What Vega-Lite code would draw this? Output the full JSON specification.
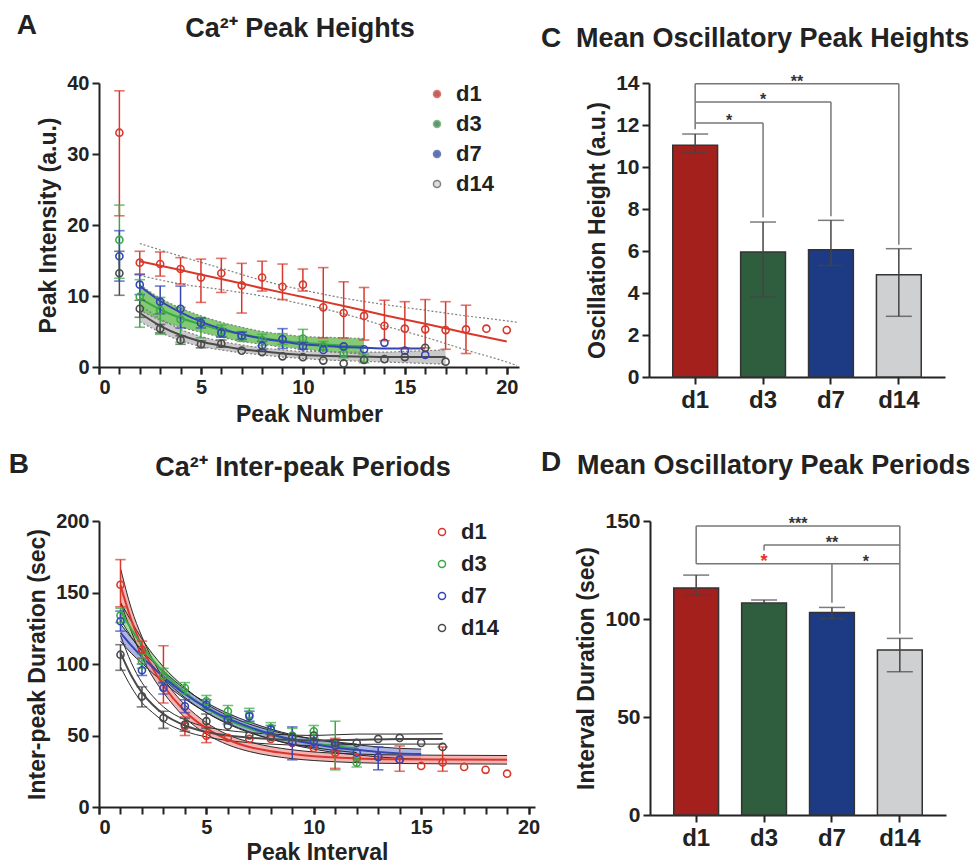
{
  "$schema": "https://vega.github.io/schema/vega-lite/v6.json",
  "padding": {"left": 8, "top": 10, "right": 0, "bottom": 0},
  "spacing": 23,
  "datasets": {
    "ptsA": [
      {"g":"d1","x":1,"m":33.0,"lo":21.3,"hi":38.9},{"g":"d1","x":2,"m":14.7,"lo":13.1,"hi":16.3},{"g":"d1","x":3,"m":14.5,"lo":12.8,"hi":16.2},{"g":"d1","x":4,"m":13.8,"lo":11.7,"hi":15.4},{"g":"d1","x":5,"m":12.6,"lo":9.1,"hi":15.2},{"g":"d1","x":6,"m":13.2,"lo":10.5,"hi":15.3},{"g":"d1","x":7,"m":11.5,"lo":7.6,"hi":14.6},{"g":"d1","x":8,"m":12.6,"lo":10.7,"hi":14.9},{"g":"d1","x":9,"m":11.3,"lo":9.5,"hi":14.5},{"g":"d1","x":10,"m":11.6,"lo":10.7,"hi":13.8},{"g":"d1","x":11,"m":8.4,"lo":4.1,"hi":14.0},{"g":"d1","x":12,"m":7.6,"lo":4.1,"hi":12.0},{"g":"d1","x":13,"m":7.2,"lo":3.8,"hi":11.2},{"g":"d1","x":14,"m":5.8,"lo":3.7,"hi":9.4},{"g":"d1","x":15,"m":5.4,"lo":2.7,"hi":9.2},{"g":"d1","x":16,"m":5.3,"lo":2.7,"hi":9.5},{"g":"d1","x":17,"m":5.2,"lo":2.5,"hi":9.2},{"g":"d1","x":18,"m":5.3,"lo":1.9,"hi":8.7},{"g":"d1","x":19,"m":5.4,"lo":null,"hi":null},{"g":"d1","x":20,"m":5.2,"lo":null,"hi":null},
      {"g":"d3","x":1,"m":17.9,"lo":12.5,"hi":22.8},{"g":"d3","x":2,"m":9.9,"lo":5.6,"hi":12.3},{"g":"d3","x":3,"m":8.0,"lo":4.6,"hi":9.8},{"g":"d3","x":4,"m":6.7,"lo":3.5,"hi":8.4},{"g":"d3","x":5,"m":6.2,"lo":4.1,"hi":6.9},{"g":"d3","x":6,"m":5.1,"lo":4.3,"hi":5.9},{"g":"d3","x":7,"m":4.3,"lo":3.6,"hi":5.0},{"g":"d3","x":8,"m":3.8,"lo":3.0,"hi":4.6},{"g":"d3","x":9,"m":3.9,"lo":3.2,"hi":4.7},{"g":"d3","x":10,"m":4.0,"lo":3.3,"hi":5.3},{"g":"d3","x":11,"m":2.9,"lo":2.3,"hi":3.6},{"g":"d3","x":12,"m":1.9,"lo":1.3,"hi":2.6},{"g":"d3","x":13,"m":1.1,"lo":0.6,"hi":1.8},
      {"g":"d7","x":1,"m":15.6,"lo":12.1,"hi":19.2},{"g":"d7","x":2,"m":11.6,"lo":10.2,"hi":13.0},{"g":"d7","x":3,"m":9.2,"lo":7.5,"hi":11.4},{"g":"d7","x":4,"m":8.2,"lo":5.5,"hi":11.4},{"g":"d7","x":5,"m":6.2,"lo":5.5,"hi":6.9},{"g":"d7","x":6,"m":4.8,"lo":4.2,"hi":5.4},{"g":"d7","x":7,"m":4.4,"lo":3.9,"hi":4.9},{"g":"d7","x":8,"m":3.0,"lo":2.4,"hi":3.6},{"g":"d7","x":9,"m":3.9,"lo":2.6,"hi":5.4},{"g":"d7","x":10,"m":2.9,"lo":2.5,"hi":3.5},{"g":"d7","x":11,"m":2.4,"lo":null,"hi":null},{"g":"d7","x":12,"m":2.9,"lo":null,"hi":null},{"g":"d7","x":13,"m":2.5,"lo":null,"hi":null},{"g":"d7","x":14,"m":3.4,"lo":null,"hi":null},{"g":"d7","x":15,"m":2.3,"lo":null,"hi":null},{"g":"d7","x":16,"m":1.7,"lo":null,"hi":null},
      {"g":"d14","x":1,"m":13.2,"lo":10.1,"hi":16.3},{"g":"d14","x":2,"m":8.2,"lo":7.0,"hi":9.4},{"g":"d14","x":3,"m":5.4,"lo":4.8,"hi":6.0},{"g":"d14","x":4,"m":3.8,"lo":3.2,"hi":4.4},{"g":"d14","x":5,"m":3.2,"lo":2.7,"hi":3.7},{"g":"d14","x":6,"m":3.3,"lo":2.8,"hi":3.8},{"g":"d14","x":7,"m":2.3,"lo":null,"hi":null},{"g":"d14","x":8,"m":2.1,"lo":null,"hi":null},{"g":"d14","x":9,"m":1.5,"lo":null,"hi":null},{"g":"d14","x":10,"m":1.4,"lo":null,"hi":null},{"g":"d14","x":11,"m":0.9,"lo":null,"hi":null},{"g":"d14","x":12,"m":0.5,"lo":null,"hi":null},{"g":"d14","x":13,"m":1.0,"lo":null,"hi":null},{"g":"d14","x":14,"m":1.1,"lo":null,"hi":null},{"g":"d14","x":15,"m":1.4,"lo":null,"hi":null},{"g":"d14","x":16,"m":2.7,"lo":null,"hi":null},{"g":"d14","x":17,"m":0.75,"lo":null,"hi":null}
    ],
    "fitA": [
      {"g":"d1","x":2,"f":14.9,"lo":12.9,"hi":17.4},{"g":"d1","x":4,"f":13.65,"lo":11.7,"hi":15.6},{"g":"d1","x":6,"f":12.4,"lo":10.9,"hi":13.9},{"g":"d1","x":8,"f":11.1,"lo":10.0,"hi":12.2},{"g":"d1","x":10,"f":9.85,"lo":8.85,"hi":10.85},{"g":"d1","x":12,"f":8.6,"lo":7.5,"hi":9.7},{"g":"d1","x":14,"f":7.3,"lo":5.8,"hi":8.8},{"g":"d1","x":16,"f":6.1,"lo":4.2,"hi":8.0},{"g":"d1","x":18,"f":4.8,"lo":2.4,"hi":7.2},{"g":"d1","x":20,"f":3.6,"lo":0.7,"hi":6.5},{"g":"d1","x":20.5,"f":null,"lo":0.2,"hi":6.3},
      {"g":"d3","x":2,"f":9.7,"lo":8.0,"hi":11.6},{"g":"d3","x":3,"f":8.1,"lo":6.6,"hi":9.7},{"g":"d3","x":4,"f":6.9,"lo":5.6,"hi":8.3},{"g":"d3","x":5,"f":6.0,"lo":4.9,"hi":7.2},{"g":"d3","x":6,"f":5.2,"lo":4.2,"hi":6.3},{"g":"d3","x":7,"f":4.6,"lo":3.6,"hi":5.6},{"g":"d3","x":8,"f":4.1,"lo":3.2,"hi":5.0},{"g":"d3","x":9,"f":3.7,"lo":2.8,"hi":4.6},{"g":"d3","x":10,"f":3.4,"lo":2.5,"hi":4.3},{"g":"d3","x":11,"f":3.2,"lo":2.2,"hi":4.2},{"g":"d3","x":12,"f":3.0,"lo":2.0,"hi":4.1},{"g":"d3","x":13,"f":2.9,"lo":1.8,"hi":4.0},
      {"g":"d7","x":2,"f":11.4,"lo":null,"hi":null},{"g":"d7","x":3,"f":9.3,"lo":null,"hi":null},{"g":"d7","x":4,"f":7.7,"lo":null,"hi":null},{"g":"d7","x":5,"f":6.4,"lo":null,"hi":null},{"g":"d7","x":6,"f":5.4,"lo":null,"hi":null},{"g":"d7","x":7,"f":4.6,"lo":null,"hi":null},{"g":"d7","x":8,"f":4.0,"lo":null,"hi":null},{"g":"d7","x":9,"f":3.6,"lo":null,"hi":null},{"g":"d7","x":10,"f":3.2,"lo":null,"hi":null},{"g":"d7","x":11,"f":3.0,"lo":null,"hi":null},{"g":"d7","x":12,"f":2.8,"lo":null,"hi":null},{"g":"d7","x":13,"f":2.7,"lo":null,"hi":null},{"g":"d7","x":14,"f":2.6,"lo":null,"hi":null},{"g":"d7","x":15,"f":2.6,"lo":null,"hi":null},{"g":"d7","x":16,"f":2.6,"lo":null,"hi":null},
      {"g":"d14","x":2,"f":7.6,"lo":6.4,"hi":8.8},{"g":"d14","x":3,"f":5.8,"lo":4.9,"hi":6.8},{"g":"d14","x":4,"f":4.5,"lo":3.7,"hi":5.3},{"g":"d14","x":5,"f":3.6,"lo":2.9,"hi":4.3},{"g":"d14","x":6,"f":3.0,"lo":2.4,"hi":3.6},{"g":"d14","x":7,"f":2.5,"lo":2.0,"hi":3.1},{"g":"d14","x":8,"f":2.2,"lo":1.7,"hi":2.7},{"g":"d14","x":9,"f":1.9,"lo":1.4,"hi":2.4},{"g":"d14","x":10,"f":1.7,"lo":1.2,"hi":2.2},{"g":"d14","x":11,"f":1.6,"lo":1.0,"hi":2.2},{"g":"d14","x":12,"f":1.5,"lo":0.9,"hi":2.1},{"g":"d14","x":13,"f":1.45,"lo":0.8,"hi":2.1},{"g":"d14","x":14,"f":1.4,"lo":0.7,"hi":2.1},{"g":"d14","x":15,"f":1.4,"lo":0.6,"hi":2.2},{"g":"d14","x":16,"f":1.4,"lo":0.5,"hi":2.3},{"g":"d14","x":17,"f":1.4,"lo":0.4,"hi":2.4}
    ],
    "ptsB": [
      {"g":"d1","x":1,"m":155.4,"lo":140,"hi":173},{"g":"d1","x":2,"m":110,"lo":104,"hi":116},{"g":"d1","x":3,"m":91.8,"lo":72.7,"hi":112.8},{"g":"d1","x":4,"m":56.4,"lo":50,"hi":63},{"g":"d1","x":5,"m":49.9,"lo":45,"hi":56},{"g":"d1","x":6,"m":48.4,"lo":null,"hi":null},{"g":"d1","x":7,"m":47.6,"lo":null,"hi":null},{"g":"d1","x":8,"m":47.6,"lo":null,"hi":null},{"g":"d1","x":9,"m":44.8,"lo":null,"hi":null},{"g":"d1","x":10,"m":41.3,"lo":null,"hi":null},{"g":"d1","x":11,"m":38,"lo":27,"hi":48},{"g":"d1","x":12,"m":34.3,"lo":null,"hi":null},{"g":"d1","x":13,"m":35,"lo":null,"hi":null},{"g":"d1","x":14,"m":33.1,"lo":25,"hi":42.7},{"g":"d1","x":15,"m":28.7,"lo":null,"hi":null},{"g":"d1","x":16,"m":31.2,"lo":25,"hi":42},{"g":"d1","x":17,"m":28,"lo":null,"hi":null},{"g":"d1","x":18,"m":26,"lo":null,"hi":null},{"g":"d1","x":19,"m":23.3,"lo":null,"hi":null},
      {"g":"d3","x":1,"m":134,"lo":129,"hi":139},{"g":"d3","x":2,"m":101.9,"lo":97,"hi":107},{"g":"d3","x":3,"m":91.8,"lo":87,"hi":97},{"g":"d3","x":4,"m":83.2,"lo":79,"hi":87},{"g":"d3","x":5,"m":73.9,"lo":69,"hi":78},{"g":"d3","x":6,"m":66.9,"lo":62,"hi":71},{"g":"d3","x":7,"m":64.6,"lo":59,"hi":69},{"g":"d3","x":8,"m":55.2,"lo":51,"hi":59},{"g":"d3","x":9,"m":49.9,"lo":46,"hi":55},{"g":"d3","x":10,"m":52.9,"lo":48,"hi":57},{"g":"d3","x":11,"m":44.3,"lo":26,"hi":60},{"g":"d3","x":12,"m":31,"lo":28,"hi":34},
      {"g":"d7","x":1,"m":129.9,"lo":123,"hi":137},{"g":"d7","x":2,"m":95.6,"lo":92,"hi":100},{"g":"d7","x":3,"m":83.2,"lo":79,"hi":87},{"g":"d7","x":4,"m":70.4,"lo":66,"hi":75},{"g":"d7","x":5,"m":71.5,"lo":68,"hi":75},{"g":"d7","x":6,"m":61.1,"lo":58,"hi":64},{"g":"d7","x":7,"m":63.4,"lo":60,"hi":67},{"g":"d7","x":8,"m":54.1,"lo":51,"hi":57},{"g":"d7","x":9,"m":45.2,"lo":33,"hi":56},{"g":"d7","x":10,"m":45.9,"lo":42,"hi":50},{"g":"d7","x":11,"m":42.9,"lo":39,"hi":47},{"g":"d7","x":12,"m":38,"lo":null,"hi":null},{"g":"d7","x":13,"m":35,"lo":26,"hi":42},{"g":"d7","x":14,"m":33.1,"lo":null,"hi":null},
      {"g":"d14","x":1,"m":106.5,"lo":95.6,"hi":113.5},{"g":"d14","x":2,"m":77.4,"lo":70,"hi":84},{"g":"d14","x":3,"m":62.2,"lo":55,"hi":67},{"g":"d14","x":4,"m":57.6,"lo":53,"hi":62},{"g":"d14","x":5,"m":60,"lo":55,"hi":65},{"g":"d14","x":6,"m":56.9,"lo":null,"hi":null},{"g":"d14","x":7,"m":50,"lo":null,"hi":null},{"g":"d14","x":8,"m":49,"lo":null,"hi":null},{"g":"d14","x":9,"m":49,"lo":null,"hi":null},{"g":"d14","x":10,"m":50,"lo":null,"hi":null},{"g":"d14","x":11,"m":44.8,"lo":null,"hi":null},{"g":"d14","x":12,"m":44.8,"lo":null,"hi":null},{"g":"d14","x":13,"m":47.6,"lo":null,"hi":null},{"g":"d14","x":14,"m":48.3,"lo":null,"hi":null},{"g":"d14","x":15,"m":44.8,"lo":null,"hi":null},{"g":"d14","x":16,"m":42,"lo":null,"hi":null}
    ],
    "fitB": [
      {"g":"d1","x":1,"f":155,"lo":143,"hi":167},{"g":"d1","x":1.5,"f":131,"lo":123,"hi":139},{"g":"d1","x":2,"f":112,"lo":105,"hi":119},{"g":"d1","x":2.5,"f":97,"lo":91,"hi":103},{"g":"d1","x":3,"f":85,"lo":80,"hi":90},{"g":"d1","x":4,"f":67,"lo":62.5,"hi":71.5},{"g":"d1","x":5,"f":55,"lo":51,"hi":59},{"g":"d1","x":6,"f":47,"lo":43.5,"hi":50.5},{"g":"d1","x":7,"f":42,"lo":38.8,"hi":45.5},{"g":"d1","x":8,"f":39,"lo":35.8,"hi":42.2},{"g":"d1","x":9,"f":37,"lo":33.8,"hi":40},{"g":"d1","x":10,"f":35.5,"lo":32.5,"hi":38.5},{"g":"d1","x":12,"f":34,"lo":31,"hi":37},{"g":"d1","x":14,"f":33.4,"lo":30.4,"hi":36.4},{"g":"d1","x":16,"f":33.2,"lo":30.2,"hi":36.2},{"g":"d1","x":19,"f":33,"lo":30,"hi":36},
      {"g":"d3","x":1,"f":137,"lo":131,"hi":143},{"g":"d3","x":1.5,"f":124.5,"lo":119,"hi":130},{"g":"d3","x":2,"f":113,"lo":108.5,"hi":117.5},{"g":"d3","x":3,"f":94,"lo":90,"hi":98},{"g":"d3","x":4,"f":80,"lo":76.5,"hi":83.5},{"g":"d3","x":5,"f":69,"lo":66,"hi":72},{"g":"d3","x":6,"f":61,"lo":58,"hi":64},{"g":"d3","x":7,"f":55,"lo":52,"hi":58},{"g":"d3","x":8,"f":50.5,"lo":47.5,"hi":53.5},{"g":"d3","x":9,"f":47,"lo":44,"hi":50},{"g":"d3","x":10,"f":44.5,"lo":41.5,"hi":47.5},{"g":"d3","x":11,"f":42.5,"lo":39.5,"hi":45.5},{"g":"d3","x":12,"f":41,"lo":38,"hi":44},
      {"g":"d7","x":1,"f":122,"lo":116,"hi":128},{"g":"d7","x":1.5,"f":113,"lo":107.5,"hi":118.5},{"g":"d7","x":2,"f":105,"lo":100.5,"hi":109.5},{"g":"d7","x":3,"f":91,"lo":87,"hi":95},{"g":"d7","x":4,"f":79,"lo":75.5,"hi":82.5},{"g":"d7","x":5,"f":69.5,"lo":66,"hi":73},{"g":"d7","x":6,"f":62,"lo":58.5,"hi":65.5},{"g":"d7","x":7,"f":56,"lo":52.5,"hi":59.5},{"g":"d7","x":8,"f":51,"lo":47.5,"hi":54.5},{"g":"d7","x":9,"f":47,"lo":43.5,"hi":50.5},{"g":"d7","x":10,"f":44,"lo":40.5,"hi":47.5},{"g":"d7","x":11,"f":41.5,"lo":38,"hi":45},{"g":"d7","x":12,"f":40,"lo":36.5,"hi":43.5},{"g":"d7","x":13,"f":38.5,"lo":35,"hi":42},{"g":"d7","x":14,"f":37.5,"lo":34,"hi":41},{"g":"d7","x":15,"f":37,"lo":33.5,"hi":40.5},
      {"g":"d14","x":1,"f":108,"lo":98,"hi":120},{"g":"d14","x":1.5,"f":92,"lo":84,"hi":101},{"g":"d14","x":2,"f":80,"lo":73,"hi":87},{"g":"d14","x":2.5,"f":71.5,"lo":66,"hi":77.5},{"g":"d14","x":3,"f":65,"lo":60,"hi":70},{"g":"d14","x":4,"f":57,"lo":53,"hi":61},{"g":"d14","x":5,"f":52.5,"lo":49,"hi":56},{"g":"d14","x":6,"f":50,"lo":46.5,"hi":53.5},{"g":"d14","x":7,"f":48.5,"lo":45,"hi":52},{"g":"d14","x":8,"f":47.5,"lo":44,"hi":51},{"g":"d14","x":10,"f":46.5,"lo":43,"hi":50},{"g":"d14","x":12,"f":47,"lo":43.8,"hi":51},{"g":"d14","x":14,"f":47.5,"lo":44,"hi":51},{"g":"d14","x":16,"f":47.6,"lo":44,"hi":51.2}
    ],
    "barsC": [
      {"g":"d1","m":11.03,"lo":10.7,"hi":11.57},{"g":"d3","m":5.95,"lo":3.81,"hi":7.38},{"g":"d7","m":6.06,"lo":5.31,"hi":7.46},{"g":"d14","m":4.87,"lo":2.89,"hi":6.11}
    ],
    "hC": [{"a":"d1","b":"d3","y":12.1},{"a":"d1","b":"d7","y":13.1},{"a":"d1","b":"d14","y":13.97}],
    "vC": [{"a":"d1","y1":11.8,"y2":13.97},{"a":"d3","y1":7.6,"y2":12.1},{"a":"d7","y1":7.65,"y2":13.1},{"a":"d14","y1":6.3,"y2":13.97}],
    "sC": [{"a":"d1","y":12.1,"t":"*","pos":"mid"},{"a":"d3","y":13.1,"t":"*","pos":"center"},{"a":"d3","y":13.97,"t":"**","pos":"mid"}],
    "barsD": [
      {"g":"d1","m":115.8,"lo":112.1,"hi":122.4},{"g":"d3","m":108.2,"lo":107.8,"hi":109.7},{"g":"d7","m":103.3,"lo":100.2,"hi":105.9},{"g":"d14","m":84.2,"lo":73.1,"hi":90.1}
    ],
    "hD": [{"a":"d1","b":"d14","y":147.4},{"a":"d3","b":"d14","y":137.8},{"a":"d1","b":"d7","y":128.2},{"a":"d7","b":"d14","y":128.2}],
    "vD": [{"a":"d1","y1":128.2,"y2":147.4},{"a":"d3","y1":135,"y2":137.8},{"a":"d7","y1":108.3,"y2":128.2},{"a":"d14","y1":92.5,"y2":147.4}],
    "sD": [{"a":"d3","y":147.4,"t":"***","pos":"mid"},{"a":"d7","y":137.8,"t":"**","pos":"center"},{"a":"d7","y":128.2,"t":"*","pos":"mid"}]
  },
  "vconcat": [
    {
      "spacing": 21,
      "hconcat": [
        {
          "title": {"text": "A", "anchor": "start", "fontSize": 28, "dx": -21, "dy": 25, "offset": 0},
          "vconcat": [
            {
              "title": {"text": "Ca²⁺ Peak Heights", "offset": 30, "fontSize": 27, "dx": -9, "frame": "group"},
              "width": 420,
              "height": 284,
              "resolve": {"axis": {"x": "independent"}},
              "layer": [
                {"data": {"name": "fitA"}, "transform": [{"filter": "datum.g == 'd14'"}], "mark": {"type": "area", "color": "#bdbdbd", "opacity": 0.8, "interpolate": "monotone"},
                 "encoding": {"x": {"field": "x", "type": "quantitative", "scale": {"domain": [0, 20.6], "nice": false}, "axis": {"orient": "bottom", "values": [0,5,10,15,20], "title": "Peak Number", "labelFontSize": 20}},
                              "y": {"field": "lo", "type": "quantitative", "scale": {"domain": [0, 40], "nice": false}, "axis": {"values": [0,10,20,30,40], "title": "Peak  Intensity (a.u.)", "labelFontSize": 20}},
                              "y2": {"field": "hi"}}},
                {"data": {"name": "fitA"}, "transform": [{"filter": "datum.g == 'd3'"}], "mark": {"type": "area", "color": "#6cc25c", "opacity": 0.85, "interpolate": "monotone"},
                 "encoding": {"x": {"field": "x", "type": "quantitative", "axis": {"orient": "bottom", "values": [0,1,2,3,4,5,6,7,8,9,10,11,12,13,14,15,16,17,18,19,20], "labels": false, "domain": false, "title": null}}, "y": {"field": "lo", "type": "quantitative"}, "y2": {"field": "hi"}}},
                {"data": {"name": "fitA"}, "transform": [{"filter": "datum.g != 'd7'"}, {"fold": ["lo", "hi"], "as": ["edge", "v"]}], "mark": {"type": "line", "color": "#808080", "strokeDash": [2, 2], "strokeWidth": 1.2, "interpolate": "monotone"},
                 "encoding": {"x": {"field": "x", "type": "quantitative", "axis": null}, "y": {"field": "v", "type": "quantitative"}, "detail": [{"field": "g"}, {"field": "edge"}]}},
                {"data": {"name": "fitA"}, "mark": {"type": "line", "strokeWidth": 2, "interpolate": "monotone"},
                 "encoding": {"x": {"field": "x", "type": "quantitative", "axis": null}, "y": {"field": "f", "type": "quantitative"}, "color": {"field": "g", "type": "nominal", "scale": {"domain": ["d1","d3","d7","d14"], "range": ["#d8382c","#3aa847","#3446b2","#4a4a4a"]}}}},
                {"data": {"name": "ptsA"}, "transform": [{"filter": "isValid(datum.lo)"}], "mark": {"type": "rule", "strokeWidth": 1.5},
                 "encoding": {"x": {"field": "x", "type": "quantitative", "axis": null}, "y": {"field": "lo", "type": "quantitative"}, "y2": {"field": "hi"}, "color": {"field": "g", "type": "nominal"}}},
                {"data": {"name": "ptsA"}, "transform": [{"filter": "isValid(datum.lo)"}, {"fold": ["lo", "hi"], "as": ["k", "v"]}], "mark": {"type": "tick", "orient": "horizontal", "size": 9, "thickness": 0.1, "filled": false, "strokeWidth": 1.5},
                 "encoding": {"x": {"field": "x", "type": "quantitative", "axis": null}, "y": {"field": "v", "type": "quantitative"}, "color": {"field": "g", "type": "nominal"}}},
                {"data": {"name": "ptsA"}, "mark": {"type": "point", "shape": "circle", "filled": false, "size": 50, "strokeWidth": 1.6, "opacity": 1},
                 "encoding": {"x": {"field": "x", "type": "quantitative", "axis": null}, "y": {"field": "m", "type": "quantitative"},
                              "color": {"field": "g", "type": "nominal", "legend": {"orient": "none", "legendX": 327, "legendY": 0, "title": null, "labelFontSize": 22, "labelFontWeight": "bold", "labelColor": "#222", "symbolType": "circle", "symbolSize": 50, "symbolStrokeWidth": 1.5, "symbolFillColor": "white", "rowPadding": 8, "labelOffset": 8, "padding": 0, "encode": {"symbols": {"update": {"fill": {"value": "white"}}}}}}}}
              ]
            }
          ]
        },
        {
          "title": {"text": "C", "anchor": "start", "fontSize": 28, "dx": -35, "dy": 43, "offset": 0},
          "vconcat": [
            {
              "title": {"text": ["", "Mean Oscillatory Peak Heights"], "lineHeight": 15, "offset": 19, "fontSize": 27, "anchor": "start", "frame": "group", "dx": -73},
              "width": 296,
              "height": 294,
              "layer": [
                {"data": {"name": "barsC"}, "mark": {"type": "bar", "stroke": "#333", "strokeWidth": 1.5},
                 "encoding": {"x": {"field": "g", "type": "nominal", "sort": null, "scale": {"domain": ["d1","d3","d7","d14"], "paddingInner": 0.34, "paddingOuter": 0.35}, "axis": {"title": null, "labelAngle": 0, "labelFontSize": 24, "labelPadding": 4}},
                              "y": {"field": "m", "type": "quantitative", "scale": {"domain": [0, 14], "nice": false}, "axis": {"values": [0,2,4,6,8,10,12,14], "title": "Oscillation Height (a.u.)", "labelFontSize": 21}},
                              "fill": {"field": "g", "type": "nominal", "scale": {"domain": ["d1","d3","d7","d14"], "range": ["#a3201d","#2f5e3f","#1d3a84","#cfd0d2"]}, "legend": null}}},
                {"data": {"name": "barsC"}, "mark": {"type": "rule", "color": "#444", "strokeWidth": 1.5},
                 "encoding": {"x": {"field": "g", "type": "nominal"}, "y": {"field": "lo", "type": "quantitative"}, "y2": {"field": "hi"}}},
                {"data": {"name": "barsC"}, "transform": [{"fold": ["lo", "hi"], "as": ["k", "v"]}], "mark": {"type": "tick", "orient": "horizontal", "color": "#444", "size": 26, "thickness": 1.5},
                 "encoding": {"x": {"field": "g", "type": "nominal"}, "y": {"field": "v", "type": "quantitative"}}},
                {"data": {"name": "hC"}, "mark": {"type": "rule", "color": "#777", "strokeWidth": 1.5},
                 "encoding": {"x": {"field": "a", "type": "nominal"}, "x2": {"field": "b"}, "y": {"field": "y", "type": "quantitative"}}},
                {"data": {"name": "vC"}, "mark": {"type": "rule", "color": "#777", "strokeWidth": 1.5},
                 "encoding": {"x": {"field": "a", "type": "nominal"}, "y": {"field": "y1", "type": "quantitative"}, "y2": {"field": "y2"}}},
                {"data": {"name": "sC"}, "transform": [{"filter": "datum.pos == 'center'"}], "mark": {"type": "text", "fontSize": 16, "fontWeight": "bold", "color": "#333", "baseline": "bottom", "dy": 6},
                 "encoding": {"x": {"field": "a", "type": "nominal"}, "y": {"field": "y", "type": "quantitative"}, "text": {"field": "t"}}},
                {"data": {"name": "sC"}, "transform": [{"filter": "datum.pos == 'mid'"}], "mark": {"type": "text", "fontSize": 16, "fontWeight": "bold", "color": "#333", "baseline": "bottom", "dy": 6, "dx": 34},
                 "encoding": {"x": {"field": "a", "type": "nominal"}, "y": {"field": "y", "type": "quantitative"}, "text": {"field": "t"}}}
              ]
            }
          ]
        }
      ]
    },
    {
      "spacing": 0,
      "hconcat": [
        {
          "title": {"text": "B", "anchor": "start", "fontSize": 28, "dx": -18, "dy": 25, "offset": 0},
          "vconcat": [
            {
              "title": {"text": "Ca²⁺ Inter-peak Periods", "offset": 29, "fontSize": 27, "dx": -14, "frame": "group"},
              "width": 436,
              "height": 286,
              "resolve": {"axis": {"x": "independent"}},
              "layer": [
                {"data": {"name": "fitB"}, "transform": [{"filter": "datum.g == 'd3'"}], "mark": {"type": "area", "color": "#8fd488", "opacity": 0.8, "interpolate": "monotone"},
                 "encoding": {"x": {"field": "x", "type": "quantitative", "scale": {"domain": [0, 20.3], "nice": false}, "axis": {"orient": "bottom", "values": [0,5,10,15,20], "title": "Peak Interval", "labelFontSize": 20, "titlePadding": 4}},
                              "y": {"field": "lo", "type": "quantitative", "scale": {"domain": [0, 200], "nice": false}, "axis": {"values": [0,50,100,150,200], "title": "Inter-peak Duration (sec)", "labelFontSize": 20}},
                              "y2": {"field": "hi"}}},
                {"data": {"name": "fitB"}, "transform": [{"filter": "datum.g == 'd7'"}], "mark": {"type": "area", "color": "#9aa2de", "opacity": 0.8, "interpolate": "monotone"},
                 "encoding": {"x": {"field": "x", "type": "quantitative", "axis": {"orient": "bottom", "values": [0,1,2,3,4,5,6,7,8,9,10,11,12,13,14,15,16,17,18,19,20], "labels": false, "domain": false, "title": null}}, "y": {"field": "lo", "type": "quantitative"}, "y2": {"field": "hi"}}},
                {"data": {"name": "fitB"}, "transform": [{"filter": "datum.g == 'd1'"}], "mark": {"type": "area", "color": "#f29a9a", "opacity": 0.75, "interpolate": "monotone"},
                 "encoding": {"x": {"field": "x", "type": "quantitative", "axis": null}, "y": {"field": "lo", "type": "quantitative"}, "y2": {"field": "hi"}}},
                {"data": {"name": "fitB"}, "transform": [{"fold": ["lo", "hi"], "as": ["edge", "v"]}], "mark": {"type": "line", "color": "#2a2a2a", "strokeWidth": 1, "interpolate": "monotone"},
                 "encoding": {"x": {"field": "x", "type": "quantitative", "axis": null}, "y": {"field": "v", "type": "quantitative"}, "detail": [{"field": "g"}, {"field": "edge"}]}},
                {"data": {"name": "fitB"}, "mark": {"type": "line", "strokeWidth": 2, "interpolate": "monotone"},
                 "encoding": {"x": {"field": "x", "type": "quantitative", "axis": null}, "y": {"field": "f", "type": "quantitative"}, "color": {"field": "g", "type": "nominal"}}},
                {"data": {"name": "ptsB"}, "transform": [{"filter": "isValid(datum.lo)"}], "mark": {"type": "rule", "strokeWidth": 1.5},
                 "encoding": {"x": {"field": "x", "type": "quantitative", "axis": null}, "y": {"field": "lo", "type": "quantitative"}, "y2": {"field": "hi"}, "color": {"field": "g", "type": "nominal"}}},
                {"data": {"name": "ptsB"}, "transform": [{"filter": "isValid(datum.lo)"}, {"fold": ["lo", "hi"], "as": ["k", "v"]}], "mark": {"type": "tick", "orient": "horizontal", "size": 9, "thickness": 0.1, "filled": false, "strokeWidth": 1.5},
                 "encoding": {"x": {"field": "x", "type": "quantitative", "axis": null}, "y": {"field": "v", "type": "quantitative"}, "color": {"field": "g", "type": "nominal"}}},
                {"data": {"name": "ptsB"}, "mark": {"type": "point", "shape": "circle", "filled": false, "size": 50, "strokeWidth": 1.6, "opacity": 1},
                 "encoding": {"x": {"field": "x", "type": "quantitative", "axis": null}, "y": {"field": "m", "type": "quantitative"},
                              "stroke": {"field": "g", "type": "nominal", "sort": ["d1","d3","d7","d14"], "scale": {"range": ["#d8382c","#3aa847","#3446b2","#4a4a4a"]}, "legend": {"orient": "none", "legendX": 332, "legendY": 438, "title": null, "labelFontSize": 22, "labelFontWeight": "bold", "labelColor": "#222", "symbolType": "circle", "symbolSize": 50, "symbolStrokeWidth": 1.5, "rowPadding": 10, "labelOffset": 8, "padding": 0}}}}
              ]
            }
          ]
        },
        {
          "title": {"text": "D", "anchor": "start", "fontSize": 28, "dx": -35, "dy": 25, "offset": 0},
          "vconcat": [
            {
              "title": {"text": "Mean Oscillatory Peak Periods", "offset": 30, "fontSize": 27, "anchor": "start", "frame": "group", "dx": -73},
              "width": 296,
              "height": 294,
              "layer": [
                {"data": {"name": "barsD"}, "mark": {"type": "bar", "stroke": "#333", "strokeWidth": 1.5},
                 "encoding": {"x": {"field": "g", "type": "nominal", "sort": null, "scale": {"domain": ["d1","d3","d7","d14"], "paddingInner": 0.34, "paddingOuter": 0.35}, "axis": {"title": null, "labelAngle": 0, "labelFontSize": 24, "labelPadding": 4}},
                              "y": {"field": "m", "type": "quantitative", "scale": {"domain": [0, 150], "nice": false}, "axis": {"values": [0,50,100,150], "title": "Interval Duration (sec)", "labelFontSize": 21}},
                              "fill": {"field": "g", "type": "nominal", "legend": null}}},
                {"data": {"name": "barsD"}, "mark": {"type": "rule", "color": "#444", "strokeWidth": 1.5},
                 "encoding": {"x": {"field": "g", "type": "nominal"}, "y": {"field": "lo", "type": "quantitative"}, "y2": {"field": "hi"}}},
                {"data": {"name": "barsD"}, "transform": [{"fold": ["lo", "hi"], "as": ["k", "v"]}], "mark": {"type": "tick", "orient": "horizontal", "color": "#444", "size": 26, "thickness": 1.5},
                 "encoding": {"x": {"field": "g", "type": "nominal"}, "y": {"field": "v", "type": "quantitative"}}},
                {"data": {"name": "hD"}, "mark": {"type": "rule", "color": "#777", "strokeWidth": 1.5},
                 "encoding": {"x": {"field": "a", "type": "nominal"}, "x2": {"field": "b"}, "y": {"field": "y", "type": "quantitative"}}},
                {"data": {"name": "vD"}, "mark": {"type": "rule", "color": "#777", "strokeWidth": 1.5},
                 "encoding": {"x": {"field": "a", "type": "nominal"}, "y": {"field": "y1", "type": "quantitative"}, "y2": {"field": "y2"}}},
                {"data": {"name": "sD"}, "transform": [{"filter": "datum.pos == 'center'"}], "mark": {"type": "text", "fontSize": 16, "fontWeight": "bold", "color": "#333", "baseline": "bottom", "dy": 6},
                 "encoding": {"x": {"field": "a", "type": "nominal"}, "y": {"field": "y", "type": "quantitative"}, "text": {"field": "t"}}},
                {"data": {"name": "sD"}, "transform": [{"filter": "datum.pos == 'mid'"}], "mark": {"type": "text", "fontSize": 16, "fontWeight": "bold", "color": "#333", "baseline": "bottom", "dy": 6, "dx": 34},
                 "encoding": {"x": {"field": "a", "type": "nominal"}, "y": {"field": "y", "type": "quantitative"}, "text": {"field": "t"}}},
                {"data": {"values": [{"a": "d3", "y": 128.2, "t": "*"}]}, "mark": {"type": "text", "fontSize": 18, "fontWeight": "bold", "color": "#e8322b", "baseline": "bottom", "dy": 7},
                 "encoding": {"x": {"field": "a", "type": "nominal"}, "y": {"field": "y", "type": "quantitative"}, "text": {"field": "t"}}}
              ]
            }
          ]
        }
      ]
    }
  ],
  "config": {
    "font": "Liberation Sans",
    "view": {"stroke": null},
    "axis": {"grid": false, "domainColor": "#222", "domainWidth": 2, "tickColor": "#222", "tickWidth": 2, "tickSize": 7, "labelFont": "Liberation Sans", "labelFontWeight": "bold", "labelColor": "#222", "labelPadding": 3, "titleFont": "Liberation Sans", "titleFontWeight": "bold", "titleFontSize": 23, "titleColor": "#222", "titlePadding": 6},
    "title": {"font": "Liberation Sans", "fontWeight": "bold", "fontSize": 25, "color": "#222"},
    "legend": {"labelFont": "Liberation Sans"}
  }
}
